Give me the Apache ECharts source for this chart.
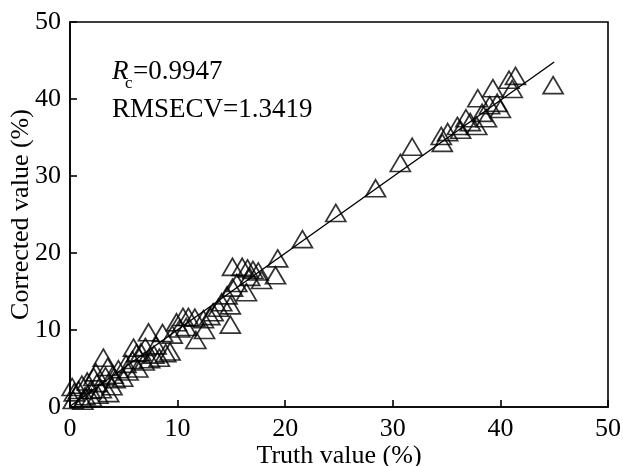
<!DOCTYPE html>
<html>
<head>
<meta charset="utf-8">
<script src="https://cdn.jsdelivr.net/npm/echarts@6/dist/echarts.min.js"></script>
<style>
  html, body { margin: 0; padding: 0; background: #fff; }
  #chart { width: 623px; height: 466px; }
</style>
</head>
<body>
<div id="chart"></div>
<script>
// Measured (truth) vs. cross-validated predicted content, in %
const truthValues = [
  0.2, 0.4, 0.3, 0.8, 1.1, 1.6, 1.4, 1.9, 2.2, 2.5, 2.6, 2.9, 3.1, 2.4, 3.3, 3.6, 3.9, 4.2, 4.5, 4.9,
  5.2, 5.4, 5.9, 6.2, 5.8, 6.6, 6.9, 7.3, 7.4, 7.8, 8.3, 8.6, 8.9, 9.3, 9.9, 10.5, 11.0, 11.6, 10.2, 10.8,
  11.7, 12.4, 12.5, 13.0, 13.3, 13.8, 14.1, 14.9, 14.6, 14.9, 15.1, 15.5, 16.4, 15.1, 16.0, 16.5, 17.0, 16.7, 17.8, 19.1,
  19.3, 21.6, 24.7, 28.4, 30.7, 31.8, 34.6, 34.5, 35.1, 36.0, 36.8, 37.8, 38.7, 37.9, 39.7, 40.0, 39.3, 40.8, 41.4, 41.1,
  44.9, 6.3, 7.0, 8.0, 9.5, 3.5, 4.0, 1.2, 2.0, 36.3, 37.2, 38.3, 39.0, 17.5
];
const correctedValues = [
  2.6, 1.9, 0.9, 2.2, 2.9, 3.3, 1.4, 2.2, 3.9, 3.1, 1.6, 2.3, 6.4, 4.5, 4.0, 1.8, 2.7, 3.6, 4.9, 3.8,
  5.6, 4.6, 7.7, 7.0, 6.1, 7.1, 5.9, 9.7, 6.2, 6.8, 6.4, 9.6, 7.0, 7.2, 11.0, 11.7, 11.7, 11.6, 10.2, 10.4,
  8.7, 11.4, 10.0, 11.8, 12.3, 12.9, 13.6, 13.2, 14.5, 10.7, 15.5, 16.1, 14.9, 18.2, 18.2, 18.0, 17.8, 16.9, 16.5, 17.1,
  19.3, 21.8, 25.2, 28.4, 31.7, 33.8, 34.3, 35.2, 35.7, 36.5, 37.5, 36.5, 37.5, 40.1, 39.5, 38.7, 41.4, 42.5, 43.0, 41.3,
  41.8, 5.0, 7.8, 8.0, 9.4, 5.2, 4.2, 0.8, 1.2, 36.0, 37.0, 38.2, 39.2, 17.6
];

// Fitted calibration line end points
const fitX = [0, 45];
const fitY = [0.1, 44.8];

const axisTicks = [0, 10, 20, 30, 40, 50];

const serif = '"Liberation Serif", "Times New Roman", serif';
const ink = '#000';

const points = truthValues.map((x, i) => [x, correctedValues[i]]);
const fitLine = fitX.map((x, i) => [x, fitY[i]]);

const chart = echarts.init(document.getElementById('chart'), null, { renderer: 'canvas' });

function axisCommon(name, gap) {
  return {
    type: 'value',
    min: axisTicks[0],
    max: axisTicks[axisTicks.length - 1],
    interval: axisTicks[1] - axisTicks[0],
    name: name,
    nameLocation: 'middle',
    nameGap: gap,
    nameMoveOverlap: false,
    nameTextStyle: { fontFamily: serif, fontSize: 26, color: ink },
    axisLine: { show: true, lineStyle: { color: ink, width: 1.6 } },
    axisTick: { show: true, inside: true, length: 7, lineStyle: { color: ink, width: 1.6 } },
    axisLabel: { fontFamily: serif, fontSize: 26, color: ink, margin: 9 },
    splitLine: { show: false }
  };
}

chart.setOption({
  animation: false,
  backgroundColor: '#fff',
  grid: {
    left: 70, right: 15, top: 22, bottom: 59,
    outerBoundsMode: 'none',
    containLabel: false,
    show: true, borderColor: ink, borderWidth: 1.6, backgroundColor: 'transparent'
  },
  xAxis: axisCommon('Truth value (%)', 36),
  yAxis: axisCommon('Corrected value (%)', 36),
  graphic: [
    { type: 'text', left: 112, top: 58,
      style: { text: 'R', font: 'italic 27px ' + serif, fill: ink } },
    { type: 'text', left: 125, top: 75,
      style: { text: 'c', font: '17px ' + serif, fill: ink } },
    { type: 'text', left: 133, top: 58,
      style: { text: '=0.9947', font: '27px ' + serif, fill: ink } },
    { type: 'text', left: 112, top: 96,
      style: { text: 'RMSECV=1.3419', font: '27px ' + serif, fill: ink } }
  ],
  series: [
    {
      type: 'line',
      data: fitLine,
      showSymbol: false,
      lineStyle: { color: ink, width: 1.4 },
      z: 2
    },
    {
      type: 'scatter',
      data: points,
      symbol: 'triangle',
      symbolSize: [20, 17],
      itemStyle: { color: 'rgba(0,0,0,0)', borderColor: ink, borderWidth: 1.7 },
      z: 3
    }
  ]
});
</script>
</body>
</html>
